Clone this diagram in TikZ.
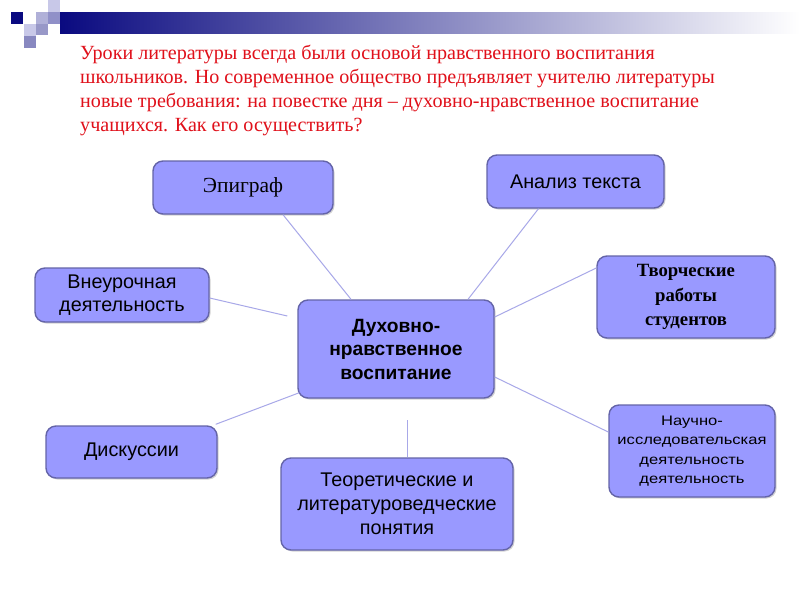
\documentclass[tikz,border=0pt]{standalone}
\usepackage{fontspec}
\setmainfont{Liberation Serif}
\newfontfamily\sansf{Liberation Sans}
\newfontfamily\sansw[FakeStretch=1.2]{Liberation Sans}
\usetikzlibrary{shadows}
\definecolor{boxfill}{HTML}{9999FF}
\definecolor{boxline}{HTML}{6464A8}
\definecolor{linkc}{HTML}{A8A8E8}
\definecolor{titlered}{HTML}{E0101A}
\definecolor{navy}{HTML}{0A0A80}
\definecolor{sqa}{HTML}{C8C8E8}
\definecolor{sqb}{HTML}{B0B0D8}
\definecolor{sqc}{HTML}{9090C8}
\definecolor{sqd}{HTML}{9898C8}
\definecolor{sqe}{HTML}{8888C0}
\tikzset{
  bx/.style={draw=boxline, line width=1.4pt, fill=boxfill, rounded corners=10pt,
    align=center, inner sep=2pt,
    drop shadow={shadow xshift=1.5pt, shadow yshift=-1.5pt, opacity=.35, fill=gray}},
  lk/.style={draw=linkc, line width=1pt},
}
\begin{document}
\begin{tikzpicture}[x=1pt,y=-1pt]
\useasboundingbox[fill=white] (0,0) rectangle (800,600);
% header
\shade[left color=navy, right color=white] (60,12) rectangle (800,33);
\fill[navy] (11,12) rectangle (23,24);
\fill[sqa] (48,0) rectangle (60,12);
\fill[sqb] (36,12) rectangle (48,24);
\fill[sqc] (48,12) rectangle (60,24);
\fill[sqa] (24,24) rectangle (36,36);
\fill[sqd] (36,24) rectangle (48,35);
\fill[sqe] (24,36) rectangle (36,48);
% title
\node[anchor=north west, inner sep=0pt, align=left, text=titlered,
  font=\fontsize{20.1}{24}\selectfont] (title) at (80,45)
  {Уроки литературы всегда были основой нравственного воспитания\\
   школьников. Но современное общество предъявляет учителю литературы\\
   новые требования: на повестке дня – духовно-нравственное воспитание\\
   учащихся. Как его осуществить?};
% boxes
\node[bx, minimum width=180, minimum height=53, font=\fontsize{21.5}{24}\selectfont] (epi) at (243,187.5) {Эпиграф};
\node[bx, minimum width=177, minimum height=53, font=\sansf\fontsize{19.8}{24}\selectfont] (ana) at (575.5,181.5) {Анализ текста};
\node[bx, minimum width=174, minimum height=54, font=\sansf\fontsize{19.8}{23}\selectfont] (vne) at (122,295) {Внеурочная\\деятельность};
\node[bx, minimum width=178, minimum height=82, font=\bfseries\fontsize{18.7}{24.5}\selectfont] (tvo) at (686,297) {Творческие\\работы\\студентов};
\node[bx, minimum width=196, minimum height=98, font=\sansf\bfseries\fontsize{19.2}{23.5}\selectfont] (cen) at (396,349) {Духовно-\\нравственное\\воспитание};
\node[bx, minimum width=171, minimum height=52, font=\sansf\fontsize{19.8}{24}\selectfont] (dis) at (131.5,452) {Дискуссии};
\node[bx, minimum width=232, minimum height=92, font=\sansf\fontsize{19.8}{24}\selectfont] (teo) at (397,504) {Теоретические и\\литературоведческие\\понятия};
\node[bx, minimum width=166, minimum height=92, font=\sansw\fontsize{13.8}{19.5}\selectfont] (nau) at (692,451) {Научно-\\исследовательская\\деятельность\\деятельность};
% links
\draw[lk] ([xshift=40]epi.south) -- ([xshift=-45]cen.north);
\draw[lk] ([xshift=-37]ana.south) -- ([xshift=72]cen.north);
\draw[lk] ([yshift=-3]vne.east) -- ([xshift=-10,yshift=33]cen.west);
\draw[lk] ([yshift=32]cen.east) -- ([yshift=29]tvo.west);
\draw[lk] ([xshift=-2,yshift=1]dis.north east) -- ([xshift=2,yshift=6]cen.south west);
\draw[lk] ([yshift=-28]cen.east) -- ([yshift=19]nau.west);
\coordinate (tt) at (407,420);
\draw[lk] (tt) -- ([xshift=10]teo.north);
\end{tikzpicture}
\end{document}
